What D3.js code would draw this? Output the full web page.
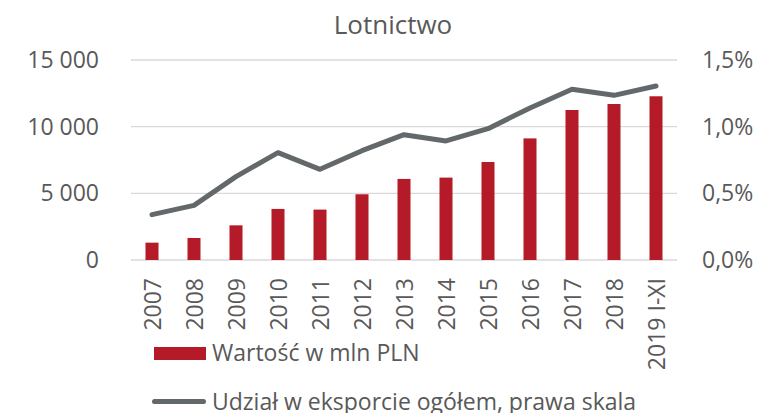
<!DOCTYPE html>
<html>
<head>
<meta charset="utf-8">
<script src="https://cdn.jsdelivr.net/npm/d3@7"></script>
<style>
  body { margin: 0; background: #fff; }
  text { font-family: "Open Sans", sans-serif; fill: #595959; }
</style>
</head>
<body>
<div id="canvas"></div>
<script>
"use strict"

/* Data */
let years = ["2007", "2008", "2009", "2010", "2011", "2012", "2013",
    "2014", "2015", "2016", "2017", "2018", "2019 I-XI"];
let valueMln = [1300, 1650, 2600, 3830, 3780, 4930, 6080,
    6180, 7350, 9120, 11250, 11700, 12280];
let sharePct = [0.34, 0.41, 0.625, 0.805, 0.68, 0.82, 0.94,
    0.893, 0.985, 1.14, 1.28, 1.235, 1.305];
let leftTicks = [0, 5000, 10000, 15000];
let rightTicks = [0, 0.5, 1.0, 1.5];

let svgWidth = 758;
let svgHeight = 413;
let plot = { left: 131, right: 677, top: 60, bottom: 260 };
let fontSize = "23px";

let svg = d3.select("#canvas")
    .append("svg")
    .attr("width", svgWidth)
    .attr("height", svgHeight);

let xScale = d3.scaleBand()
    .domain(years)
    .range([plot.left, plot.right])
    .paddingInner(0.69)
    .paddingOuter(0.345);

let yLeft = d3.scaleLinear()
    .domain([0, 15000])
    .range([plot.bottom, plot.top]);

let yRight = d3.scaleLinear()
    .domain([0, 1.5])
    .range([plot.bottom, plot.top]);

let fmtLeft = function (v) {
    return d3.format(",")(v).replace(/,/g, " ");
};
let fmtRight = function (v) {
    return d3.format(".1f")(v).replace(".", ",") + "%";
};

/* Title */
svg.append("text")
    .attr("x", 393)
    .attr("y", 34)
    .attr("text-anchor", "middle")
    .style("font-size", "26px")
    .text("Lotnictwo");

/* Gridlines */
svg.append("g")
    .selectAll("line")
    .data(leftTicks)
    .join("line")
    .attr("x1", plot.left)
    .attr("x2", plot.right)
    .attr("y1", d => yLeft(d))
    .attr("y2", d => yLeft(d))
    .attr("stroke", "#d9d9d9")
    .attr("stroke-width", 1.3);

/* Left axis */
let leftAxis = svg.append("g")
    .attr("transform", "translate(" + (plot.left - 29) + ",0)")
    .call(d3.axisLeft(yLeft).tickValues(leftTicks).tickFormat(fmtLeft).tickSize(0));
leftAxis.select(".domain").remove();
leftAxis.selectAll("text")
    .style("font-size", fontSize)
    .style("fill", "#595959")
    .attr("font-family", null);

/* Right axis */
let rightAxis = svg.append("g")
    .attr("transform", "translate(" + (plot.right + 22) + ",0)")
    .call(d3.axisRight(yRight).tickValues(rightTicks).tickFormat(fmtRight).tickSize(0));
rightAxis.select(".domain").remove();
rightAxis.selectAll("text")
    .style("font-size", fontSize)
    .style("fill", "#595959")
    .attr("font-family", null);

/* Bars */
svg.append("g")
    .selectAll("rect")
    .data(years)
    .join("rect")
    .attr("x", d => xScale(d))
    .attr("width", xScale.bandwidth())
    .attr("y", (d, i) => yLeft(valueMln[i]))
    .attr("height", (d, i) => yLeft(0) - yLeft(valueMln[i]))
    .attr("fill", "#b51a28");

/* Share line */
let line = d3.line()
    .x((d, i) => xScale(years[i]) + xScale.bandwidth() / 2)
    .y(d => yRight(d));

svg.append("path")
    .datum(sharePct)
    .attr("d", line)
    .attr("fill", "none")
    .attr("stroke", "#63686a")
    .attr("stroke-width", 5)
    .attr("stroke-linecap", "round")
    .attr("stroke-linejoin", "round");

/* Category labels, rotated */
svg.append("g")
    .selectAll("text")
    .data(years)
    .join("text")
    .attr("transform", d => "translate(" + (xScale(d) + xScale.bandwidth() / 2 + 8.5) + "," + 278 + ") rotate(-90)")
    .attr("text-anchor", "end")
    .style("font-size", fontSize)
    .text(d => d);

/* Legend */
svg.append("rect")
    .attr("x", 154)
    .attr("y", 347)
    .attr("width", 52)
    .attr("height", 13)
    .attr("fill", "#b51a28");

svg.append("text")
    .attr("x", 212)
    .attr("y", 361)
    .style("font-size", fontSize)
    .text("Wartość w mln PLN");

svg.append("line")
    .attr("x1", 154.5)
    .attr("x2", 203.5)
    .attr("y1", 401.5)
    .attr("y2", 401.5)
    .attr("stroke", "#63686a")
    .attr("stroke-width", 5)
    .attr("stroke-linecap", "round");

svg.append("text")
    .attr("x", 212)
    .attr("y", 410)
    .style("font-size", fontSize)
    .text("Udział w eksporcie ogółem, prawa skala");
</script>
</body>
</html>
